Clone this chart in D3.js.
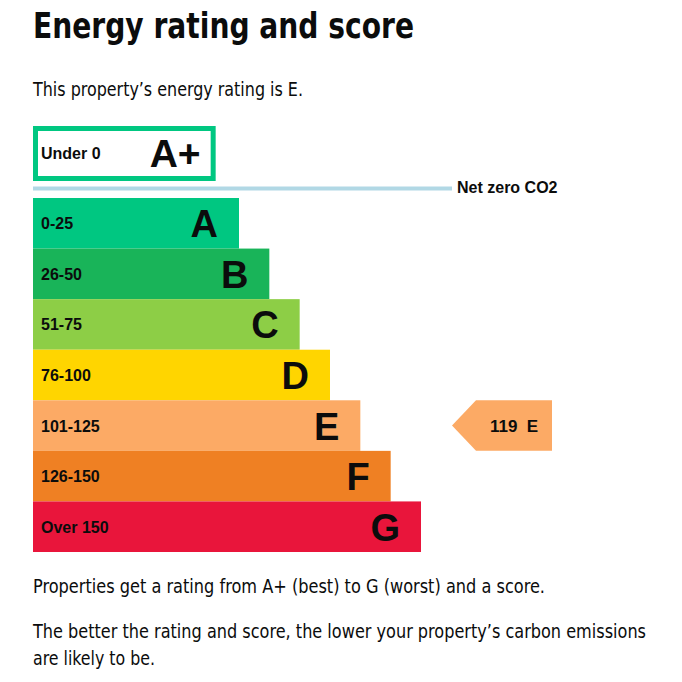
<!DOCTYPE html>
<html lang="en">
<head>
    <meta charset="UTF-8">
    <title>Energy rating and score</title>
    <script src="https://d3js.org/d3.v7.min.js"></script>
    <style>
        body { margin: 0; background: #fff; }
    </style>
</head>
<body>
    <svg width="682" height="682"></svg>

    <script>
        // EPC bands, best to worst
        const ratings = ['A', 'B', 'C', 'D', 'E', 'F', 'G'];
        const ranges = ['0-25', '26-50', '51-75', '76-100', '101-125', '126-150', 'Over 150'];
        const upperScores = [25, 50, 75, 100, 125, 150, 175];
        const bandColors = ['#00c781', '#19b459', '#8dce46', '#ffd500', '#fcaa65', '#ef8023', '#e9153b'];

        const topRating = 'A+';
        const topRange = 'Under 0';
        const topColor = '#00c781';

        const currentScore = 119;
        const currentRating = 'E';

        const title = 'Energy rating and score';
        const intro = 'This property’s energy rating is E.';
        const notes = [
            'Properties get a rating from A+ (best) to G (worst) and a score.',
            'The better the rating and score, the lower your property’s carbon emissions',
            'are likely to be.'
        ];

        const bodyFont = '"Liberation Sans Narrow", "DejaVu Sans Condensed", "Noto Sans", sans-serif';
        const labelFont = '"Liberation Sans", Arial, sans-serif';
        const left = 33;

        const svg = d3.select('svg');

        const x = d3.scaleLinear()
            .domain([25, 175])
            .range([239, 421]);

        const y = d3.scaleBand()
            .domain(ratings)
            .range([198, 552])
            .paddingInner(0);

        const bands = ratings.map((r, i) => ({
            rating: r,
            range: ranges[i],
            score: upperScores[i],
            color: bandColors[i]
        }));

        // heading + intro
        svg.append('text')
            .attr('x', left).attr('y', 38)
            .attr('font-family', bodyFont)
            .attr('font-weight', 'bold')
            .attr('font-size', 36)
            .attr('fill', '#0b0c0c')
            .attr('textLength', 381)
            .attr('lengthAdjust', 'spacingAndGlyphs')
            .text(title);

        svg.append('text')
            .attr('x', left).attr('y', 96)
            .attr('font-family', bodyFont)
            .attr('font-size', 19)
            .attr('fill', '#0b0c0c')
            .attr('textLength', 270)
            .attr('lengthAdjust', 'spacingAndGlyphs')
            .text(intro);

        // A+ outlined box
        const topBox = svg.append('g');
        topBox.append('rect')
            .attr('x', left + 2.5)
            .attr('y', 128.5)
            .attr('width', x(0) + 4.5 - left - 2.5)
            .attr('height', 50)
            .attr('fill', '#fff')
            .attr('stroke', topColor)
            .attr('stroke-width', 5);
        topBox.append('text')
            .attr('x', 41).attr('y', 159)
            .attr('font-family', labelFont)
            .attr('font-weight', 'bold')
            .attr('font-size', 16)
            .attr('fill', '#0b0c0c')
            .text(topRange);
        topBox.append('text')
            .attr('x', x(0) - 8).attr('y', 167)
            .attr('text-anchor', 'end')
            .attr('font-family', labelFont)
            .attr('font-weight', 'bold')
            .attr('font-size', 39)
            .attr('fill', '#0b0c0c')
            .text(topRating);

        // net zero line
        svg.append('line')
            .attr('x1', left).attr('x2', 452)
            .attr('y1', 188.5).attr('y2', 188.5)
            .attr('stroke', '#b1d8e5')
            .attr('stroke-width', 4);
        svg.append('text')
            .attr('x', 457).attr('y', 193)
            .attr('font-family', labelFont)
            .attr('font-weight', 'bold')
            .attr('font-size', 16)
            .attr('fill', '#0b0c0c')
            .text('Net zero CO2');

        // rating bars
        const bar = svg.append('g')
            .selectAll('g')
            .data(bands)
            .join('g')
            .attr('transform', d => `translate(0,${y(d.rating)})`);

        bar.append('rect')
            .attr('x', left)
            .attr('width', d => x(d.score) - left)
            .attr('height', y.bandwidth())
            .attr('fill', d => d.color);

        bar.append('text')
            .attr('x', 41)
            .attr('y', y.bandwidth() / 2 + 6)
            .attr('font-family', labelFont)
            .attr('font-weight', 'bold')
            .attr('font-size', 16)
            .attr('fill', '#0b0c0c')
            .text(d => d.range);

        bar.append('text')
            .attr('x', d => x(d.score) - 21)
            .attr('y', y.bandwidth() / 2 + 14)
            .attr('text-anchor', 'end')
            .attr('font-family', labelFont)
            .attr('font-weight', 'bold')
            .attr('font-size', 38)
            .attr('fill', '#0b0c0c')
            .text(d => d.rating);

        // current score pointer
        const cur = bands.find(d => d.rating === currentRating);
        const h = y.bandwidth();
        const px = 452, pw = 100, tip = 24;
        const pointer = svg.append('g')
            .attr('transform', `translate(${px},${y(currentRating)})`);
        pointer.append('path')
            .attr('d', d3.line()([[0, h / 2], [tip, 0], [pw, 0], [pw, h], [tip, h]]) + 'Z')
            .attr('fill', cur.color);
        pointer.append('text')
            .attr('x', 38).attr('y', h / 2 + 6)
            .attr('font-family', labelFont)
            .attr('font-weight', 'bold')
            .attr('font-size', 17)
            .attr('fill', '#0b0c0c')
            .attr('xml:space', 'preserve')
            .text(`${currentScore}  ${currentRating}`);

        // notes under the chart
        const noteY = [593, 638, 665];
        const noteW = [512, 613, 122];
        svg.append('g')
            .selectAll('text')
            .data(notes)
            .join('text')
            .attr('x', left)
            .attr('y', (d, i) => noteY[i])
            .attr('font-family', bodyFont)
            .attr('font-size', 19)
            .attr('fill', '#0b0c0c')
            .attr('textLength', (d, i) => noteW[i])
            .attr('lengthAdjust', 'spacingAndGlyphs')
            .text(d => d);
    </script>
</body>
</html>
